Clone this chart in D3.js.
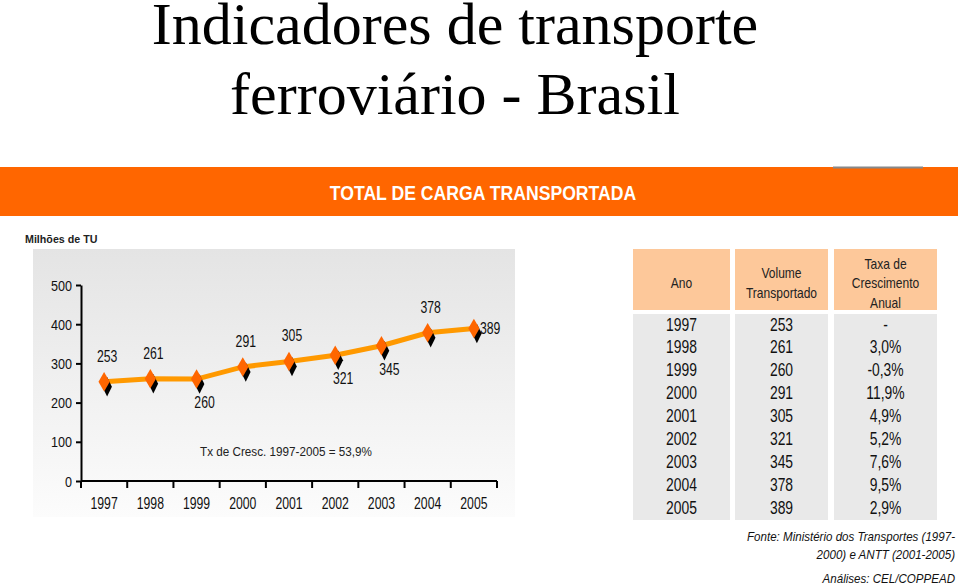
<!DOCTYPE html>
<html><head><meta charset="utf-8">
<script src="https://cdn.jsdelivr.net/npm/d3@7"></script>
<style>body{margin:0;background:#fff}svg{display:block}</style>
</head><body><svg id="c" width="960" height="585"></svg>
<script>
const years = ["1997","1998","1999","2000","2001","2002","2003","2004","2005"];
const volumes = [253,261,260,291,305,321,345,378,389];
const growth = ["-","3,0%","-0,3%","11,9%","4,9%","5,2%","7,6%","9,5%","2,9%"];
const labelPos = ["above","above","below","above","above","below","below","above","right"];
const yTicks = [0,100,200,300,400,500];
const headers = [["Ano"],["Volume","Transportado"],["Taxa de","Crescimento","Anual"]];
const titleLines = ["Indicadores de transporte","ferroviário - Brasil"];
const sourceLines = ["Fonte: Ministério dos Transportes (1997-","2000) e ANTT (2001-2005)","Análises: CEL/COPPEAD"];

const svg = d3.select("#c");
const SANS = "'Liberation Sans',Arial,sans-serif";

// condense text horizontally around its anchor point
function narrow(sel, sx){
  sel.each(function(){
    const t = d3.select(this);
    const x = +t.attr("x")||0, y = +t.attr("y")||0;
    t.attr("x",0).attr("y",0).attr("transform",`translate(${x},${y}) scale(${sx},1)`);
  });
  return sel;
}

// Title
svg.selectAll("text.title").data(titleLines).join("text")
  .attr("x",455).attr("y",(d,i)=>44+i*70)
  .attr("text-anchor","middle").attr("font-family","'Liberation Serif','Times New Roman',serif")
  .attr("font-size",60).attr("fill","#000").text(d=>d);

// Banner
svg.append("rect").attr("x",0).attr("y",167).attr("width",958).attr("height",49).attr("fill","#ff6600");
svg.append("line").attr("x1",833).attr("x2",923).attr("y1",167.5).attr("y2",167.5).attr("stroke","#888").attr("stroke-width",2);
narrow(svg.append("text").attr("x",483).attr("y",200).attr("text-anchor","middle")
  .attr("font-family",SANS).attr("font-weight","bold").attr("font-size",21).attr("fill","#fff")
  .text("TOTAL DE CARGA TRANSPORTADA"),0.84);

// Chart background
const defs = svg.append("defs");
const g1 = defs.append("linearGradient").attr("id","bg").attr("x1",0).attr("x2",0).attr("y1",0).attr("y2",1);
g1.append("stop").attr("offset","0%").attr("stop-color","#e4e4e4");
g1.append("stop").attr("offset","100%").attr("stop-color","#fcfcfc");
svg.append("rect").attr("x",33).attr("y",249).attr("width",482).attr("height",268).attr("fill","url(#bg)");
narrow(svg.append("text").attr("x",25).attr("y",243).attr("font-family",SANS).attr("font-weight","bold")
  .attr("font-size",11.5).attr("fill","#222").text("Milhões de TU"),0.93);

const x = d3.scaleBand().domain(years).range([81,497]);
const y = d3.scaleLinear().domain([0,500]).range([481,285]);

const yAxis = svg.append("g").attr("transform","translate(81,0)")
  .call(d3.axisLeft(y).tickValues(yTicks).tickSize(5).tickSizeOuter(0).tickPadding(4));
const xAxis = svg.append("g").attr("transform","translate(0,481)")
  .call(d3.axisBottom(x).tickSize(6).tickSizeOuter(6).tickPadding(10));
[yAxis,xAxis].forEach(a=>{
  a.selectAll("path,line").attr("stroke","#000").attr("stroke-width",2);
  a.selectAll("text").attr("font-family",SANS).attr("fill","#111");
});
yAxis.selectAll("text").attr("font-size",14).attr("dy","0.36em").call(s=>narrow(s,0.9));
xAxis.selectAll("text").attr("font-size",17).attr("dy","0.71em").call(s=>narrow(s,0.72));
// x ticks at band boundaries
xAxis.selectAll(".tick line").remove();
xAxis.selectAll("line.b").data(years.concat(["end"])).join("line").attr("class","b")
  .attr("x1",(d,i)=>i<years.length?x(d):x.range()[1]).attr("x2",(d,i)=>i<years.length?x(d):x.range()[1])
  .attr("y1",0).attr("y2",7).attr("stroke","#000").attr("stroke-width",2);
xAxis.select(".domain").attr("d","M81,0H497");

const cx = d=>x(d)+x.bandwidth()/2;
const pts = years.map((d,i)=>[cx(d),y(volumes[i])]);
svg.append("path").attr("d",d3.line()(pts)).attr("fill","none").attr("stroke","#ff9900").attr("stroke-width",5);
const diamond = d3.symbol().type(d3.symbolDiamond).size(110);
svg.selectAll("path.sh").data(pts).join("path").attr("class","sh")
  .attr("d",diamond).attr("transform",d=>`translate(${d[0]+3},${d[1]+5}) scale(0.85,1)`).attr("fill","#000");
svg.selectAll("path.pt").data(pts).join("path").attr("class","pt")
  .attr("d",diamond).attr("transform",d=>`translate(${d[0]},${d[1]})`).attr("fill","#ff6600");

svg.selectAll("text.lab").data(volumes).join("text").attr("class","lab")
  .attr("x",(d,i)=>labelPos[i]==="right"?pts[i][0]+6:labelPos[i]==="above"?pts[i][0]+3:pts[i][0]+8)
  .attr("y",(d,i)=>labelPos[i]==="above"?pts[i][1]-20:labelPos[i]==="below"?pts[i][1]+29:pts[i][1]+5)
  .attr("text-anchor",(d,i)=>labelPos[i]==="right"?"start":"middle")
  .attr("font-family",SANS).attr("font-size",17).attr("fill","#111").text(d=>d)
  .call(s=>narrow(s,0.72));

narrow(svg.append("text").attr("x",200).attr("y",456).attr("font-family",SANS).attr("font-size",13)
  .attr("fill","#222").text("Tx de Cresc. 1997-2005 = 53,9%"),0.9);

// Table
const cols = [{x:633,w:97},{x:735,w:93},{x:834,w:103}];
cols.forEach((c,ci)=>{
  svg.append("rect").attr("x",c.x).attr("y",249).attr("width",c.w).attr("height",61).attr("fill","#fdc89a");
  svg.append("rect").attr("x",c.x).attr("y",314).attr("width",c.w).attr("height",206).attr("fill","#e9e9e9");
  const h = headers[ci];
  svg.selectAll(null).data(h).join("text").attr("x",c.x+c.w/2)
    .attr("y",(d,i)=>288+(i-(h.length-1)/2)*19.5)
    .attr("text-anchor","middle").attr("font-family",SANS).attr("font-size",14).attr("fill","#222").text(d=>d)
    .call(s=>narrow(s,0.86));
});
const colVals = [years, volumes, growth];
const rowY = d3.scalePoint().domain(years).range([330.5,513.5]);
colVals.forEach((vals,ci)=>{
  svg.selectAll(null).data(vals).join("text").attr("x",cols[ci].x+cols[ci].w/2)
    .attr("y",(d,i)=>rowY(years[i])).attr("text-anchor","middle")
    .attr("font-family",SANS).attr("font-size",18.5).attr("fill","#111").text(d=>d)
    .call(s=>narrow(s,0.75));
});

svg.selectAll("text.src").data(sourceLines).join("text").attr("class","src")
  .attr("x",955).attr("y",(d,i)=>[541,559,583][i]).attr("text-anchor","end")
  .attr("font-family",SANS).attr("font-style","italic").attr("font-size",13).attr("fill","#111").text(d=>d)
  .call(s=>narrow(s,0.89));
</script></body></html>
